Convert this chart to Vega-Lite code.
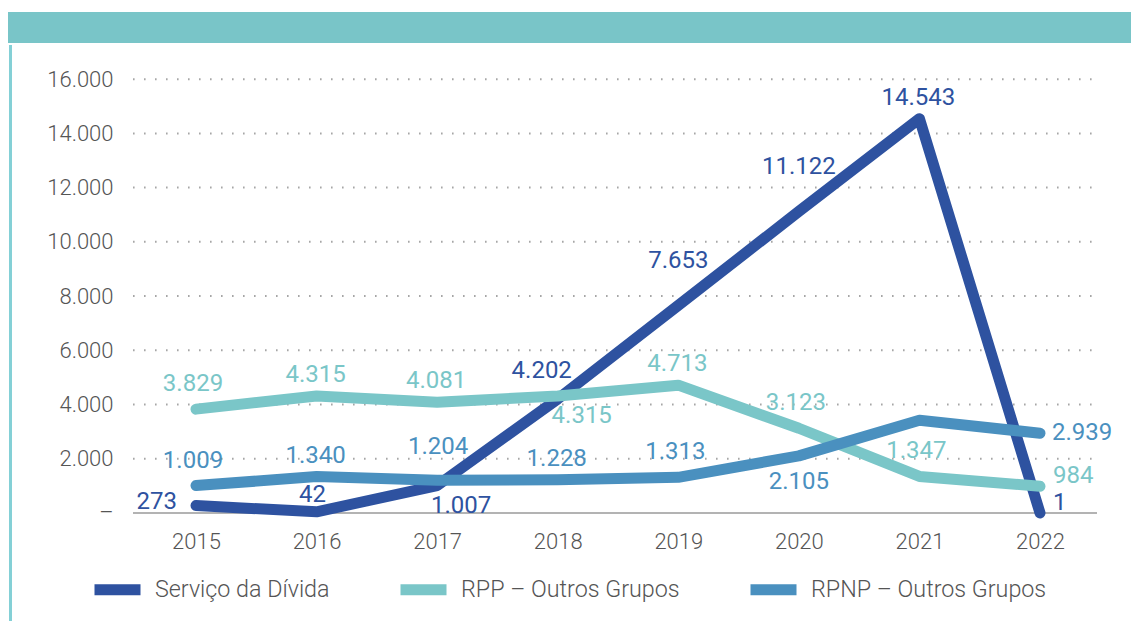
{
  "$schema": "https://vega.github.io/schema/vega-lite/v6.json",
  "padding": {"left": 8, "top": 12, "right": 0, "bottom": 0},
  "background": "white",
  "spacing": 0,
  "config": {
    "view": {"stroke": null},
    "font": "Roboto",
    "locale": {"number": {"decimal": ",", "thousands": ".", "grouping": [3], "currency": ["", " €"]}}
  },
  "vconcat": [
    {
      "width": 1123,
      "height": 31,
      "view": {"fill": "#79c5c8", "stroke": null},
      "data": {"values": [{}]},
      "mark": {"type": "text"},
      "encoding": {"text": {"value": ""}}
    },
    {
      "width": 1123,
      "height": 578,
      "data": {"values": [
        {"series": "Serviço da Dívida", "year": 2015, "value": 273},
        {"series": "Serviço da Dívida", "year": 2016, "value": 42},
        {"series": "Serviço da Dívida", "year": 2017, "value": 1007},
        {"series": "Serviço da Dívida", "year": 2018, "value": 4202},
        {"series": "Serviço da Dívida", "year": 2019, "value": 7653},
        {"series": "Serviço da Dívida", "year": 2020, "value": 11122},
        {"series": "Serviço da Dívida", "year": 2021, "value": 14543},
        {"series": "Serviço da Dívida", "year": 2022, "value": 1},
        {"series": "RPP – Outros Grupos", "year": 2015, "value": 3829},
        {"series": "RPP – Outros Grupos", "year": 2016, "value": 4315},
        {"series": "RPP – Outros Grupos", "year": 2017, "value": 4081},
        {"series": "RPP – Outros Grupos", "year": 2018, "value": 4315},
        {"series": "RPP – Outros Grupos", "year": 2019, "value": 4713},
        {"series": "RPP – Outros Grupos", "year": 2020, "value": 3123},
        {"series": "RPP – Outros Grupos", "year": 2021, "value": 1347},
        {"series": "RPP – Outros Grupos", "year": 2022, "value": 984},
        {"series": "RPNP – Outros Grupos", "year": 2015, "value": 1009},
        {"series": "RPNP – Outros Grupos", "year": 2016, "value": 1340},
        {"series": "RPNP – Outros Grupos", "year": 2017, "value": 1204},
        {"series": "RPNP – Outros Grupos", "year": 2018, "value": 1228},
        {"series": "RPNP – Outros Grupos", "year": 2019, "value": 1313},
        {"series": "RPNP – Outros Grupos", "year": 2020, "value": 2105},
        {"series": "RPNP – Outros Grupos", "year": 2021, "value": 3420},
        {"series": "RPNP – Outros Grupos", "year": 2022, "value": 2939}
      ]},
      "layer": [
        {
          "data": {"values": [{"v": 2000}, {"v": 4000}, {"v": 6000}, {"v": 8000}, {"v": 10000}, {"v": 12000}, {"v": 14000}, {"v": 16000}]},
          "mark": {"type": "rule", "color": "#a6a6a6", "strokeWidth": 2, "strokeDash": [1.6, 9.4]},
          "encoding": {
            "y": {"field": "v", "type": "quantitative",
              "scale": {"domain": [-4060, 17260], "nice": false, "zero": false},
              "axis": {"title": null, "values": [0, 2000, 4000, 6000, 8000, 10000, 12000, 14000, 16000], "format": ",.0f",
                "labelExpr": "datum.value == 0 ? '–' : datum.label",
                "offset": -105, "labelPadding": 0, "domain": false, "ticks": false, "tickSize": 0, "grid": false,
                "labelFontSize": 22, "labelColor": "#555555", "labelFont": "Roboto", "labelFontWeight": 300, "labelBaseline": "middle"}},
            "x": {"datum": 2014.4775, "type": "quantitative",
              "scale": {"domain": [2013.4407, 2022.7548], "nice": false, "zero": false},
              "axis": {"title": null, "values": [2015, 2016, 2017, 2018, 2019, 2020, 2021, 2022], "format": "d",
                "offset": -110, "labelPadding": 18, "domain": false, "ticks": false, "tickSize": 0, "grid": false,
                "labelFontSize": 22, "labelColor": "#555555", "labelFont": "Roboto", "labelFontWeight": 300,
                "labelFlush": false, "labelOverlap": false}},
            "x2": {"datum": 2022.4728}
          }
        },
        {
          "data": {"values": [{"v": 0}]},
          "mark": {"type": "rule", "color": "#9a9a9a", "strokeWidth": 1.5},
          "encoding": {
            "y": {"field": "v", "type": "quantitative"},
            "x": {"datum": 2014.4775, "type": "quantitative"},
            "x2": {"datum": 2022.4728}
          }
        },
        {
          "data": {"values": [{"v": 0}]},
          "mark": {"type": "rule", "color": "#84d0d6", "strokeWidth": 3},
          "encoding": {
            "x": {"datum": 2013.4614, "type": "quantitative"}
          }
        },
        {
          "mark": {"type": "line", "strokeWidth": 11, "strokeCap": "round", "strokeJoin": "round"},
          "encoding": {
            "x": {"field": "year", "type": "quantitative"},
            "y": {"field": "value", "type": "quantitative"},
            "color": {"field": "series", "type": "nominal",
              "scale": {"domain": ["Serviço da Dívida", "RPP – Outros Grupos", "RPNP – Outros Grupos"], "range": ["#2e52a0", "#7ac6c8", "#4a90bf"]},
              "legend": {"orient": "none", "legendX": 81, "legendY": 549, "direction": "horizontal", "title": null,
                "symbolType": "stroke", "symbolSize": 2116, "symbolStrokeWidth": 11, "labelFontSize": 23.3,
                "labelColor": "#555555", "labelFont": "Roboto", "labelFontWeight": 300, "columnPadding": 48,
                "labelOffset": 9, "padding": 0, "labelLimit": 400}}
          }
        },
        {
          "transform": [{"filter": "indexof(['RPP – Outros Grupos|2016','RPP – Outros Grupos|2017','RPP – Outros Grupos|2019','RPNP – Outros Grupos|2016','RPNP – Outros Grupos|2018','Serviço da Dívida|2021'], datum.series + '|' + datum.year) >= 0"}],
          "mark": {"type": "text", "fontSize": 24, "baseline": "middle", "align": "center", "dx": -1, "dy": -21},
          "encoding": {
            "x": {"field": "year", "type": "quantitative"},
            "y": {"field": "value", "type": "quantitative"},
            "text": {"field": "value", "type": "quantitative", "format": ",.0f"},
            "color": {"field": "series", "type": "nominal"}
          }
        },
        {
          "transform": [{"filter": "indexof(['RPP – Outros Grupos|2015','RPP – Outros Grupos|2020','RPP – Outros Grupos|2021','RPNP – Outros Grupos|2015','RPNP – Outros Grupos|2019'], datum.series + '|' + datum.year) >= 0"}],
          "mark": {"type": "text", "fontSize": 24, "baseline": "middle", "align": "center", "dx": -3, "dy": -25},
          "encoding": {
            "x": {"field": "year", "type": "quantitative"},
            "y": {"field": "value", "type": "quantitative"},
            "text": {"field": "value", "type": "quantitative", "format": ",.0f"},
            "color": {"field": "series", "type": "nominal"}
          }
        },
        {
          "transform": [{"filter": "indexof(['Serviço da Dívida|2019','Serviço da Dívida|2020'], datum.series + '|' + datum.year) >= 0"}],
          "mark": {"type": "text", "fontSize": 24, "baseline": "middle", "align": "center", "dx": 0, "dy": -44},
          "encoding": {
            "x": {"field": "year", "type": "quantitative"},
            "y": {"field": "value", "type": "quantitative"},
            "text": {"field": "value", "type": "quantitative", "format": ",.0f"},
            "color": {"field": "series", "type": "nominal"}
          }
        },
        {
          "transform": [{"filter": "datum.series + '|' + datum.year == 'Serviço da Dívida|2018'"}],
          "mark": {"type": "text", "fontSize": 24, "baseline": "middle", "align": "center", "dx": -16, "dy": -28},
          "encoding": {
            "x": {"field": "year", "type": "quantitative"},
            "y": {"field": "value", "type": "quantitative"},
            "text": {"field": "value", "type": "quantitative", "format": ",.0f"},
            "color": {"field": "series", "type": "nominal"}
          }
        },
        {
          "transform": [{"filter": "datum.series + '|' + datum.year == 'RPNP – Outros Grupos|2017'"}],
          "mark": {"type": "text", "fontSize": 24, "baseline": "middle", "align": "center", "dx": 1, "dy": -33},
          "encoding": {
            "x": {"field": "year", "type": "quantitative"},
            "y": {"field": "value", "type": "quantitative"},
            "text": {"field": "value", "type": "quantitative", "format": ",.0f"},
            "color": {"field": "series", "type": "nominal"}
          }
        },
        {
          "transform": [{"filter": "datum.series + '|' + datum.year == 'Serviço da Dívida|2016'"}],
          "mark": {"type": "text", "fontSize": 24, "baseline": "middle", "align": "center", "dx": -4, "dy": -17},
          "encoding": {
            "x": {"field": "year", "type": "quantitative"},
            "y": {"field": "value", "type": "quantitative"},
            "text": {"field": "value", "type": "quantitative", "format": ",.0f"},
            "color": {"field": "series", "type": "nominal"}
          }
        },
        {
          "transform": [{"filter": "datum.series + '|' + datum.year == 'RPNP – Outros Grupos|2020'"}],
          "mark": {"type": "text", "fontSize": 24, "baseline": "middle", "align": "center", "dx": 0, "dy": 26},
          "encoding": {
            "x": {"field": "year", "type": "quantitative"},
            "y": {"field": "value", "type": "quantitative"},
            "text": {"field": "value", "type": "quantitative", "format": ",.0f"},
            "color": {"field": "series", "type": "nominal"}
          }
        },
        {
          "transform": [{"filter": "indexof(['RPP – Outros Grupos|2018','Serviço da Dívida|2017'], datum.series + '|' + datum.year) >= 0"}],
          "mark": {"type": "text", "fontSize": 24, "baseline": "middle", "align": "center", "dx": 24, "dy": 20},
          "encoding": {
            "x": {"field": "year", "type": "quantitative"},
            "y": {"field": "value", "type": "quantitative"},
            "text": {"field": "value", "type": "quantitative", "format": ",.0f"},
            "color": {"field": "series", "type": "nominal"}
          }
        },
        {
          "transform": [{"filter": "indexof(['RPP – Outros Grupos|2022','Serviço da Dívida|2022'], datum.series + '|' + datum.year) >= 0"}],
          "mark": {"type": "text", "fontSize": 24, "baseline": "middle", "align": "left", "dx": 13, "dy": -10},
          "encoding": {
            "x": {"field": "year", "type": "quantitative"},
            "y": {"field": "value", "type": "quantitative"},
            "text": {"field": "value", "type": "quantitative", "format": ",.0f"},
            "color": {"field": "series", "type": "nominal"}
          }
        },
        {
          "transform": [{"filter": "datum.series + '|' + datum.year == 'RPNP – Outros Grupos|2022'"}],
          "mark": {"type": "text", "fontSize": 24, "baseline": "middle", "align": "left", "dx": 12, "dy": 0},
          "encoding": {
            "x": {"field": "year", "type": "quantitative"},
            "y": {"field": "value", "type": "quantitative"},
            "text": {"field": "value", "type": "quantitative", "format": ",.0f"},
            "color": {"field": "series", "type": "nominal"}
          }
        },
        {
          "transform": [{"filter": "datum.series + '|' + datum.year == 'Serviço da Dívida|2015'"}],
          "mark": {"type": "text", "fontSize": 24, "baseline": "middle", "align": "right", "dx": -19, "dy": -4},
          "encoding": {
            "x": {"field": "year", "type": "quantitative"},
            "y": {"field": "value", "type": "quantitative"},
            "text": {"field": "value", "type": "quantitative", "format": ",.0f"},
            "color": {"field": "series", "type": "nominal"}
          }
        }
      ]
    }
  ]
}
